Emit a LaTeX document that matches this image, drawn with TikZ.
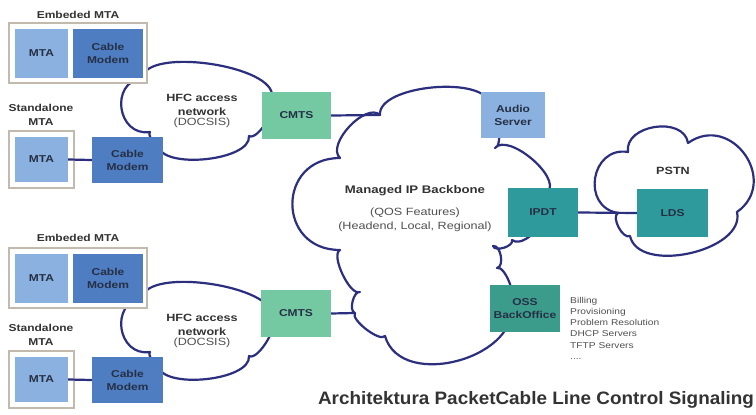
\documentclass[tikz,border=0pt]{standalone}
\usepackage{fontspec}
\setmainfont{Liberation Sans}
\newfontfamily\wide[FakeStretch=1.2]{Liberation Sans}
\newfontfamily\titlefont[FakeStretch=1.05]{Liberation Sans}

\definecolor{navy}{HTML}{2C2F7E}
\definecolor{mtablue}{HTML}{8AB1DF}
\definecolor{cmblue}{HTML}{4E7DC2}
\definecolor{cmtsgreen}{HTML}{74C9A3}
\definecolor{teal}{HTML}{2F9A9C}
\definecolor{ossteal}{HTML}{3C9C8C}
\definecolor{framegray}{HTML}{C2BAAE}
\definecolor{boxtext}{HTML}{263045}
\definecolor{labeltext}{HTML}{333333}
\definecolor{softtext}{HTML}{505050}

\begin{document}
\begin{tikzpicture}[x=1pt,y=1pt,
  cloudline/.style={draw=navy, line width=2.2pt, fill=white, line join=round},
  link/.style={draw=navy, line width=2.2pt},
  lb/.style={bend left=90, looseness=#1},
  frame/.style={draw=framegray, line width=1.8pt, fill=white, inner sep=0pt},
  unit/.style={inner sep=0pt, align=center, text=boxtext,
    font=\wide\bfseries\fontsize{10}{13}\selectfont},
  mtabox/.style={unit, fill=mtablue, minimum width=53, minimum height=49},
  cmbox/.style={unit, fill=cmblue, minimum width=70, minimum height=49},
  cmtsbox/.style={unit, fill=cmtsgreen, minimum width=70, minimum height=47},
  tealbox/.style={unit, fill=teal, minimum width=70, minimum height=49},
  grp/.style={inner sep=0pt, align=center, text=labeltext,
    font=\wide\bfseries\fontsize{10}{14}\selectfont},
  cloudtxt/.style={inner sep=0pt, align=center, text=labeltext,
    font=\wide\bfseries\fontsize{10.5}{14.5}\selectfont},
  softtxt/.style={inner sep=0pt, align=center, text=softtext,
    font=\wide\fontsize{10.5}{13}\selectfont},
  listtxt/.style={inner sep=0pt, align=left, text=softtext,
    font=\wide\fontsize{8.5}{11.2}\selectfont}
]
\useasboundingbox (0,0) rectangle (756,-415);
\fill[white] (0,0) rectangle (756,-415);

% ---------- clouds ----------
% upper HFC access network
\draw[cloudline] (142,-78) to[lb=0.62] (272,-97) to[lb=0.6] (249,-136)
  to[lb=0.7] (158,-145) to[lb=0.6] (150,-132) to[lb=1.55] (142,-78) -- cycle;
% lower HFC access network
\begin{scope}[yshift=-220pt]
\draw[cloudline] (142,-78) to[lb=0.62] (272,-97) to[lb=0.6] (249,-136)
  to[lb=0.7] (158,-145) to[lb=0.6] (150,-132) to[lb=1.55] (142,-78) -- cycle;
\end{scope}

% managed IP backbone
\draw[cloudline]
  (340,-158) to[lb=0.85] (380,-115) coordinate (bbtop)
  to[lb=0.7] (490,-105) to[lb=0.5] (495,-148)
  to[lb=0.75] (548,-192) to[lb=0.8] (512,-240)
  to[lb=0.85] (493,-246) to[lb=0.9] (497,-268)
  to[lb=0.6] (510,-300) to[lb=1.15] (385,-336)
  to[lb=0.55] (355,-313) coordinate (bbbot)
  to[lb=0.8] (360,-292) to[lb=0.6] (340,-250)
  to[lb=1.77] (340,-158) -- cycle;

% PSTN
\draw[cloudline]
  (618,-213) coordinate (pstnin) to[lb=1.56] (628,-152) to[lb=1.17] (688,-143)
  to[lb=1.6] (737,-212) to[lb=0.93] (630,-236) to[lb=0.8] (618,-213) -- cycle;

% ---------- cloud captions ----------
\node[cloudtxt] (hfc1) at (202,-105) {HFC access\\network};
\node[softtxt] (hfc1d) at (202,-123) {(DOCSIS)};
\node[cloudtxt] (hfc2) at (202,-325) {HFC access\\network};
\node[softtxt] (hfc2d) at (202,-343) {(DOCSIS)};

\node[cloudtxt, font=\wide\bfseries\fontsize{11}{13}\selectfont] (bbname) at (415,-191) {Managed IP Backbone};
\node[softtxt] (bbqos) at (415,-213) {(QOS Features)};
\node[softtxt] (bbscope) at (415,-227) {(Headend, Local, Regional)};

\node[cloudtxt] (pstn) at (673,-171) {PSTN};

% ---------- customer premises, upper ----------
\node[grp] (emb1lbl) at (78,-15) {Embeded MTA};
\node[frame, minimum width=138, minimum height=60] (emb1) at (78,-53) {};
\node[mtabox] (mta1) at (41.5,-53.5) {MTA};
\node[cmbox] (cm1) at (108,-53.5) {Cable\\Modem};

\node[grp] (sa1lbl) at (41,-115) {Standalone\\MTA};
\node[frame, minimum width=65, minimum height=57] (sa1) at (41.5,-159.5) {};
\node[mtabox, minimum height=45] (mta2) at (41.5,-159.5) {MTA};
\node[cmbox, minimum width=71, minimum height=46] (cm2) at (127.5,-160) {Cable\\Modem};
\draw[link] (mta2.east) -- (cm2.west);

% ---------- customer premises, lower ----------
\node[grp] (emb2lbl) at (78,-238) {Embeded MTA};
\node[frame, minimum width=138, minimum height=60] (emb2) at (78,-278) {};
\node[mtabox] (mta3) at (41.5,-278.5) {MTA};
\node[cmbox] (cm3) at (108,-278.5) {Cable\\Modem};

\node[grp] (sa2lbl) at (41,-335) {Standalone\\MTA};
\node[frame, minimum width=65, minimum height=57] (sa2) at (41.5,-379.5) {};
\node[mtabox, minimum height=45] (mta4) at (41.5,-379.5) {MTA};
\node[cmbox, minimum width=71, minimum height=46] (cm4) at (127.5,-380) {Cable\\Modem};
\draw[link] (mta4.east) -- (cm4.west);

% ---------- head end ----------
\node[cmtsbox, minimum width=69] (cmts1) at (296.5,-115.5) {CMTS};
\node[cmtsbox] (cmts2) at (296,-313.5) {CMTS};
\draw[link] (cmts1.east) -- (bbtop);
\draw[link] (cmts2.east) -- (bbbot);

% ---------- backbone services ----------
\node[unit, fill=mtablue, minimum width=64, minimum height=46] (audio) at (513,-115) {Audio\\Server};
\node[tealbox] (ipdt) at (543,-212.5) {IPDT};
\node[tealbox, minimum width=71, minimum height=48] (lds) at (672.5,-213) {LDS};
\draw[link] (ipdt.east) -- (lds.west);
\node[unit, fill=ossteal, minimum width=70, minimum height=47] (oss) at (525,-308.5) {OSS\\BackOffice};
\node[listtxt, anchor=north west] (osslist) at (570,-297)
  {Billing\\Provisioning\\Problem Resolution\\DHCP Servers\\TFTP Servers\\....};

% ---------- caption ----------
\node[inner sep=0pt, text=labeltext, font=\titlefont\bfseries\fontsize{18}{20}\selectfont]
  (caption) at (536,-400) {Architektura PacketCable Line Control Signaling};
\end{tikzpicture}
\end{document}
